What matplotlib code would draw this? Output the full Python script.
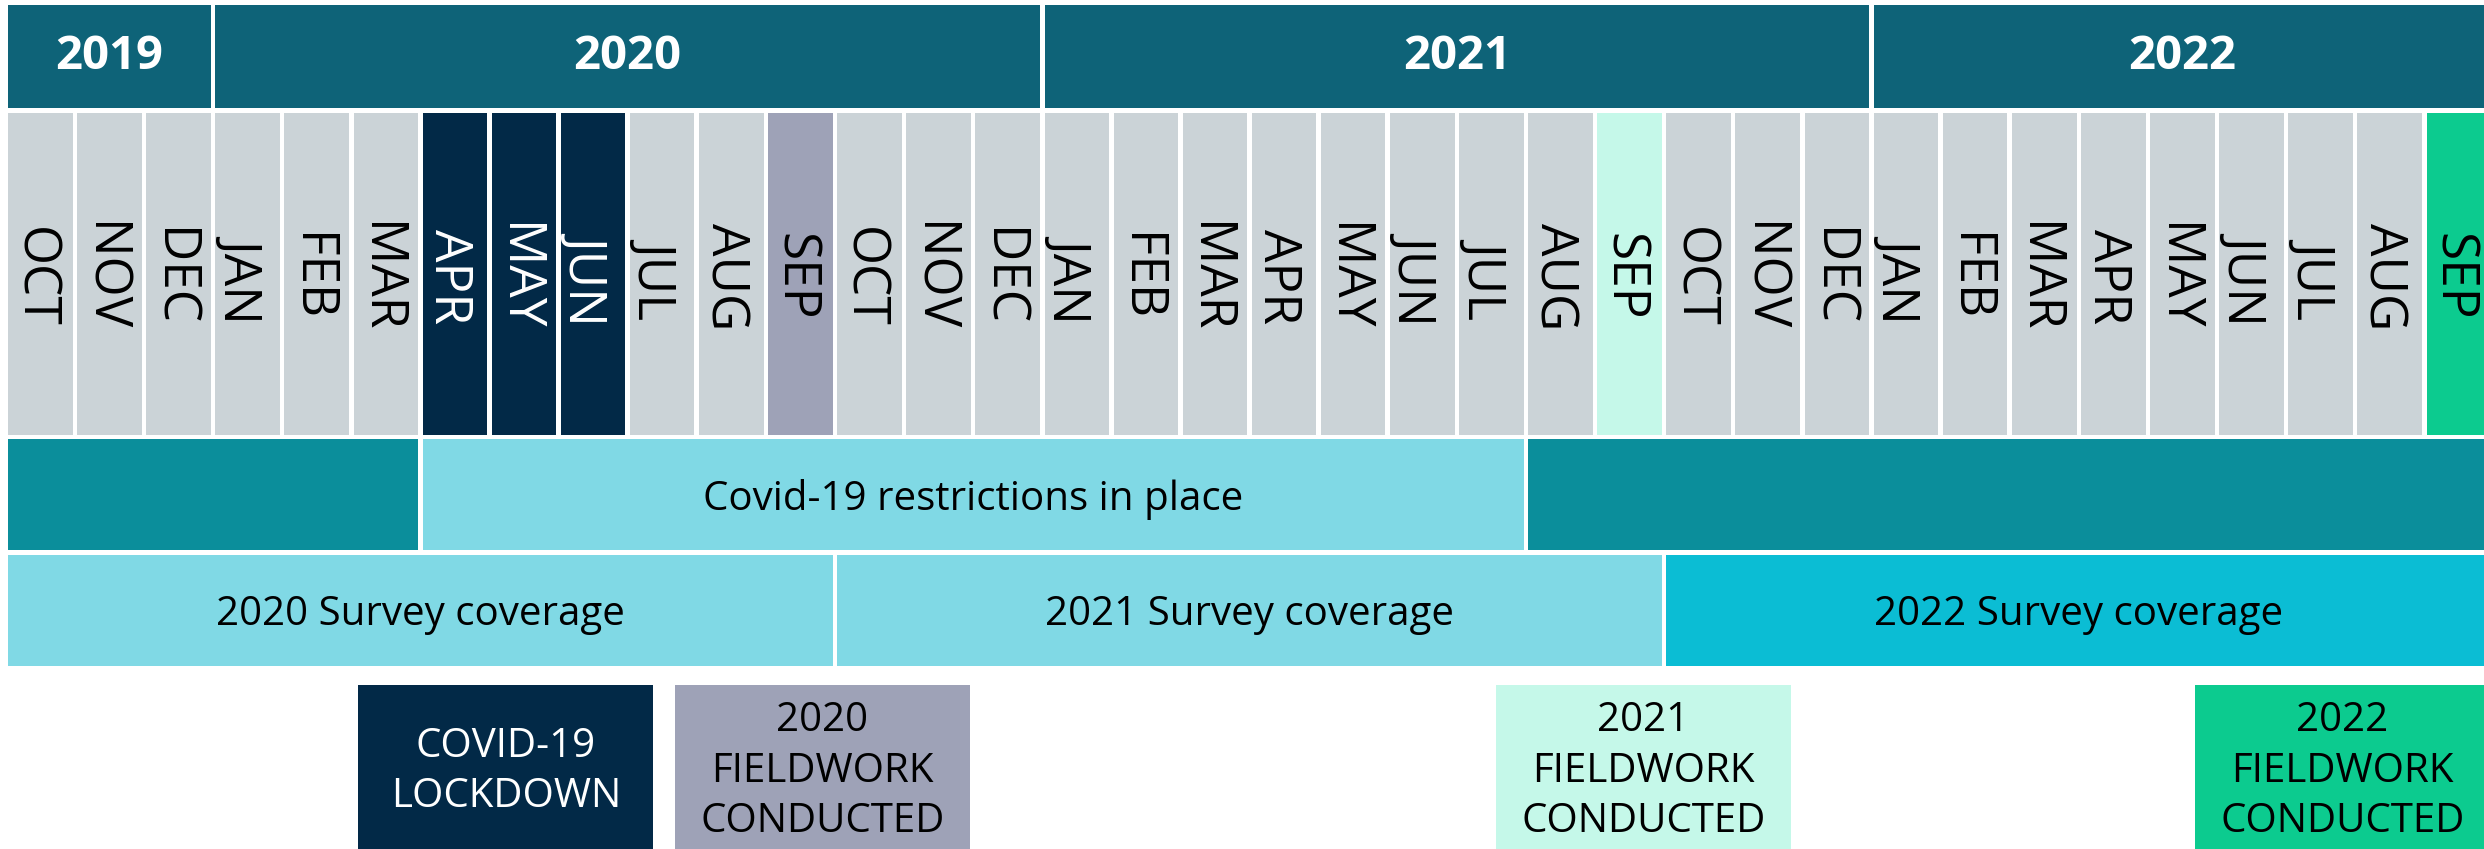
import matplotlib.pyplot as plt

# ─── Data ────────────────────────────────────────────────────────────────────
months = ["OCT", "NOV", "DEC",
          "JAN", "FEB", "MAR", "APR", "MAY", "JUN", "JUL", "AUG", "SEP", "OCT", "NOV", "DEC",
          "JAN", "FEB", "MAR", "APR", "MAY", "JUN", "JUL", "AUG", "SEP", "OCT", "NOV", "DEC",
          "JAN", "FEB", "MAR", "APR", "MAY", "JUN", "JUL", "AUG", "SEP"]
# what each month stands for
month_kind = (["normal"] * 6 + ["lockdown"] * 3 + ["normal"] * 2 + ["fw2020"]
              + ["normal"] * 11 + ["fw2021"] + ["normal"] * 11 + ["fw2022"])

year_labels = ["2019", "2020", "2021", "2022"]
year_months = [3, 12, 12, 9]

restr_labels = ["", "Covid-19 restrictions in place", ""]
restr_months = [6, 16, 14]
restr_kind = ["off", "on", "off"]

survey_labels = ["2020 Survey coverage", "2021 Survey coverage", "2022 Survey coverage"]
survey_months = [12, 12, 12]

box_labels = ["COVID-19\nLOCKDOWN", "2020\nFIELDWORK\nCONDUCTED",
              "2021\nFIELDWORK\nCONDUCTED", "2022\nFIELDWORK\nCONDUCTED"]
box_kind = ["lockdown", "fw2020", "fw2021", "fw2022"]

# ─── Styles / layout ─────────────────────────────────────────────────────────
fill = {"normal": "#cbd3d7", "lockdown": "#022947", "fw2020": "#9ea2b7",
        "fw2021": "#c5f8e9", "fw2022": "#0ccb8f"}
ink = {"normal": "black", "lockdown": "white", "fw2020": "black",
       "fw2021": "black", "fw2022": "black"}
year_col = "#0e6378"
restr_col = {"off": "#0b8e9b", "on": "#80d9e5"}
survey_col = ["#80d9e5", "#80d9e5", "#0bbdd4"]

PX = 69.1          # pixels per month
X0 = 8             # left edge in pixels
GAP = 4.5 / PX     # white gap between cells, in months
box_left = [5.07, 9.65, 21.53, 31.65]   # month units
box_w = 295 / PX

rows = {"year": (5, 108), "month": (113, 435), "restr": (439, 550),
        "survey": (555, 666), "box": (685, 852)}

MONTH_FS = 37
CAP = 0.714 * MONTH_FS * 100 / 72 / PX   # cap height in month units

FONT = ["Open Sans", "DejaVu Sans"]
plt.rcParams["font.family"] = FONT

fig = plt.figure(figsize=(24.84, 8.49), dpi=100)
ax = fig.add_axes([0, 0, 1, 1])
ax.set_xlim(-X0 / PX, (2484 - X0) / PX)
ax.set_ylim(849, 0)
ax.axis("off")


def spans(counts):
    start = 0
    for n in counts:
        yield start, n
        start += n


def row_bar(x, n, row, color):
    top, bot = rows[row]
    ax.bar(x, bot - top, width=n - GAP, bottom=top, align="edge",
           color=color, linewidth=0)
    return x + (n - GAP) / 2, (top + bot) / 2


# year band
for lab, (s, n) in zip(year_labels, spans(year_months)):
    cx, cy = row_bar(s, n, "year", year_col)
    ax.text(cx, cy, lab, ha="center", va="center", color="white",
            fontsize=34, fontweight="bold")

# months (baseline on the left, caps point right)
for i, (m, k) in enumerate(zip(months, month_kind)):
    cx, cy = row_bar(i, 1, "month", fill[k])
    ax.text(cx - CAP / 2 - 0.02, cy + 3, m, ha="center", va="baseline",
            rotation=270, rotation_mode="anchor",
            color=ink[k], fontsize=MONTH_FS)

# restrictions
for lab, k, (s, n) in zip(restr_labels, restr_kind, spans(restr_months)):
    cx, cy = row_bar(s, n, "restr", restr_col[k])
    if lab:
        ax.text(cx, cy + 5, lab, ha="center", va="center", fontsize=29)

# survey coverage
for lab, c, (s, n) in zip(survey_labels, survey_col, spans(survey_months)):
    cx, cy = row_bar(s, n, "survey", c)
    ax.text(cx, cy + 4, lab, ha="center", va="center", fontsize=29)

# legend-like boxes
top, bot = rows["box"]
for lab, k, x in zip(box_labels, box_kind, box_left):
    ax.bar(x, bot - top, width=box_w, bottom=top, align="edge",
           color=fill[k], linewidth=0)
    ax.text(x + box_w / 2, (top + bot) / 2 + 3, lab, ha="center", va="center",
            color=ink[k], fontsize=29, linespacing=1.32)

fig.savefig("out.png", dpi=100)
